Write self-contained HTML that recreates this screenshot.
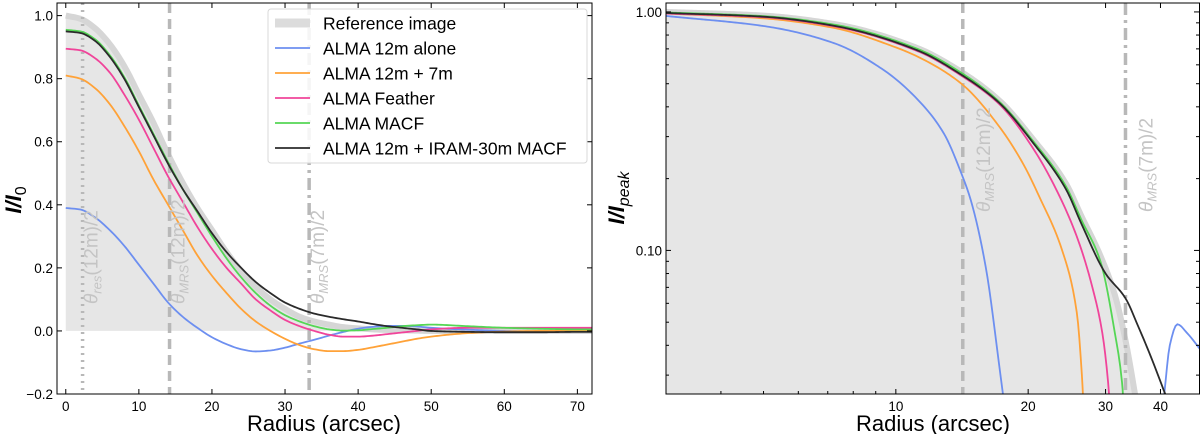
<!DOCTYPE html>
<html><head><meta charset="utf-8">
<style>
html,body{margin:0;padding:0;background:#fff;}
svg{display:block;font-family:"Liberation Sans","DejaVu Sans",sans-serif;}
</style></head>
<body>
<svg id="fig" width="1200" height="434" viewBox="0 0 1200 434" xmlns="http://www.w3.org/2000/svg">
<defs>
<clipPath id="clipL"><rect x="57" y="3" width="535" height="391"/></clipPath>
<clipPath id="clipR"><rect x="666" y="3" width="534" height="391"/></clipPath>
</defs>
<g id="left"></g>
<g id="right"></g>
</svg>
<script>
// ---------- LEFT PANEL DATA ----------
const radiusL = [0,2,4,6,8,10,12,14,16,18,20,22,24,26,28,30,32,34,36,38,40,42,44,46,48,50,55,60,65,70,72];
const refL    = [1.0,.99,.96,.91,.84,.75,.66,.56,.47,.39,.32,.25,.19,.14,.10,.07,.045,.03,.02,.012,.008,.005,.003,.002,.001,0,0,0,0,0,0];
const blueL   = [.39,.385,.36,.32,.27,.21,.15,.09,.045,.01,-.02,-.042,-.058,-.065,-.062,-.053,-.04,-.028,-.015,-.003,.007,.013,.016,.016,.014,.01,.004,0,-.002,-.002,-.002];
const orangeL = [.81,.80,.77,.72,.65,.57,.48,.40,.32,.24,.175,.12,.07,.03,0,-.025,-.045,-.058,-.064,-.064,-.06,-.052,-.043,-.034,-.025,-.018,-.007,-.002,0,0,0];
const pinkL   = [.895,.89,.865,.82,.75,.67,.58,.49,.41,.33,.26,.20,.15,.10,.065,.035,.015,0,-.012,-.018,-.018,-.015,-.01,-.005,0,.005,.01,.01,.01,.01,.01];
const greenL  = [.955,.95,.925,.875,.805,.715,.625,.535,.45,.375,.30,.23,.17,.12,.08,.05,.03,.015,.005,.001,.002,.006,.01,.015,.018,.02,.015,.01,.007,.005,.005];
const blackL  = [.95,.945,.92,.87,.80,.71,.62,.53,.45,.38,.31,.25,.20,.155,.12,.09,.07,.055,.045,.037,.03,.022,.015,.01,.005,0,-.003,-.004,-.004,-.003,-.003];
const xTicksL = [0,10,20,30,40,50,60,70];
const yTicksL = [-0.2,0.0,0.2,0.4,0.6,0.8,1.0];
const yTickLabelsL = ["\u22120.2","0.0","0.2","0.4","0.6","0.8","1.0"];
// ---------- RIGHT PANEL DATA ----------
const refRr = [3,5,7.23,11.2,14.1,17.2,20.6,24.4,26.4,29.2,31.5,33.3,35,36];
const refRv = [1.0,.965,.89,.705,.56,.425,.29,.19,.14,.095,.065,.042,.025,.018];
const blueRr = [3,5.1,7.23,9.39,11.2,12.85,14.1,14.8,16.0,17.3,17.8];
const blueRv = [.962,.868,.74,.57,.43,.31,.21,.163,.086,.03,.02];
const blue2Rr = [40.8,42,43.7,46,49.5];
const blue2Rv = [.025,.04,.049,.045,.038];
const orangeRr = [3,5,7.23,10,11.2,14.1,17.2,19.5,21.2,23.9,25.8,26.5,26.8];
const orangeRv = [.985,.94,.857,.71,.65,.50,.33,.23,.168,.10,.055,.03,.02];
const pinkRr = [3,5,7.23,11.2,14.1,17.2,20.6,23.6,26,28,29.5,30.4,30.8];
const pinkRv = [.985,.95,.87,.685,.54,.41,.265,.168,.11,.07,.045,.028,.02];
const greenRr = [3,5,7.23,11.2,14.1,17.2,20.6,24.4,26.4,29.2,31.5,32.7,33.1];
const greenRv = [.995,.96,.885,.70,.555,.42,.285,.185,.135,.09,.045,.028,.02];
const blackRr = [3,5,7.23,11.2,14.1,17.2,20.6,24.4,26.4,30,33.3,35.6,38,41];
const blackRv = [.99,.955,.875,.69,.545,.415,.28,.18,.13,.08,.063,.048,.036,.025];
const xTicksR = [10,20,30,40];
const xMinorR = [3,4,5,6,7,8,9,50];
const yTicksR = [1.0,0.1];
const yTickLabelsR = ["1.00","0.10"];
const yMinorR = [0.03,0.04,0.05,0.06,0.07,0.08,0.09,0.2,0.3,0.4,0.5,0.6,0.7,0.8,0.9];
const markersR = [14.2,33.3];
const markersL = [2.3,14.2,33.3];

const NS="http://www.w3.org/2000/svg";
function mk(parent,tag,attrs,text){const e=document.createElementNS(NS,tag);for(const k in attrs)e.setAttribute(k,attrs[k]);if(text!==undefined)e.textContent=text;parent.appendChild(e);return e;}

const L={x0:57,x1:592,y0:3,y1:394,xmin:-1.2,xmax:72,ymin:-0.2,ymax:1.04};
function xL(v){return L.x0+(v-L.xmin)/(L.xmax-L.xmin)*(L.x1-L.x0);}
function yL(v){return L.y1-(v-L.ymin)/(L.ymax-L.ymin)*(L.y1-L.y0);}
const R={x0:666,x1:1200,y0:3,y1:394,xmin:3,xmax:49.2,ymin:0.025,ymax:1.09};
function xR(v){return R.x0+(Math.log10(v)-Math.log10(R.xmin))/(Math.log10(R.xmax)-Math.log10(R.xmin))*(R.x1-R.x0);}
function yR(v){return R.y1-(Math.log10(v)-Math.log10(R.ymin))/(Math.log10(R.ymax)-Math.log10(R.ymin))*(R.y1-R.y0);}

function mono(pts){const n=pts.length;if(n<3)return pts;
 const d=[],m=[];for(let i=0;i<n-1;i++)d.push((pts[i+1][1]-pts[i][1])/(pts[i+1][0]-pts[i][0]));
 m[0]=d[0];m[n-1]=d[n-2];
 for(let i=1;i<n-1;i++){if(d[i-1]*d[i]<=0)m[i]=0;else{const h0=pts[i][0]-pts[i-1][0],h1=pts[i+1][0]-pts[i][0];const w1=2*h1+h0,w2=h1+2*h0;m[i]=(w1+w2)/(w1/d[i-1]+w2/d[i]);}}
 const out=[];
 for(let i=0;i<n-1;i++){const x0=pts[i][0],x1=pts[i+1][0],y0=pts[i][1],y1=pts[i+1][1],h=x1-x0;const steps=Math.max(4,Math.ceil(h/2));
  for(let s=0;s<steps;s++){const t=s/steps,t2=t*t,t3=t2*t;
   out.push([x0+t*h,(2*t3-3*t2+1)*y0+(t3-2*t2+t)*h*m[i]+(-2*t3+3*t2)*y1+(t3-t2)*h*m[i+1]]);}}
 out.push(pts[n-1]);return out;}
function poly(pts){return 'M'+pts.map(p=>p[0].toFixed(2)+','+p[1].toFixed(2)).join(' L');}

// ================= LEFT =================
const gL=document.getElementById('left');
const plotL=mk(gL,'g',{'clip-path':'url(#clipL)'});
{const pts=mono(radiusL.map((r,i)=>[xL(r),yL(refL[i])]));
 const f=mk(plotL,'path',{d:poly(pts)+` L${xL(radiusL[radiusL.length-1])},${yL(0)} L${xL(0)},${yL(0)} Z`,fill:'#e6e6e6'});
 
 const l=mk(plotL,'path',{d:poly(pts),fill:'none',stroke:'#d6d6d6','stroke-width':6});
 }
const dashes=['2,5','10,6','12,5,3,5'];
markersL.forEach((m,i)=>{const e=mk(plotL,'line',{x1:xL(m),x2:xL(m),y1:L.y0,y2:L.y1,stroke:'#b8b8b8','stroke-width':3.5,'stroke-dasharray':dashes[i]});
 });
const seriesL=[['blue',blueL,'#6d8ff0'],['orange',orangeL,'#ffa238'],['pink',pinkL,'#f0449a'],['green',greenL,'#55d655'],['black',blackL,'#2b2b2b']];
seriesL.forEach(s=>{const pts=mono(radiusL.map((r,i)=>[xL(r),yL(s[1][i])]));
 const e=mk(plotL,'path',{d:poly(pts),fill:'none',stroke:s[2],'stroke-width':1.8});
 });
const labL=[[2.3,'res','(12m)/2'],[14.2,'MRS','(12m)/2'],[33.3,'MRS','(7m)/2']];
labL.forEach(t=>{const x=xL(t[0])+15,y=304;
 const tx=mk(gL,'text',{x:x,y:y,transform:`rotate(-90 ${x} ${y})`,fill:'#c4c4c4','font-size':19});
 
 mk(tx,'tspan',{'font-style':'italic'},'\u03B8');mk(tx,'tspan',{'font-style':'italic','font-size':13,dy:4},t[1]);mk(tx,'tspan',{dy:-4},t[2]);});
{const f=mk(gL,'rect',{x:L.x0,y:L.y0,width:L.x1-L.x0,height:L.y1-L.y0,fill:'none',stroke:'#000','stroke-width':1});
 }
xTicksL.forEach(v=>{const x=xL(v);mk(gL,'line',{x1:x,x2:x,y1:L.y1,y2:L.y1-5,stroke:'#000'});mk(gL,'line',{x1:x,x2:x,y1:L.y0,y2:L.y0+5,stroke:'#000'});
 const t=mk(gL,'text',{x:x,y:L.y1+17,'text-anchor':'middle','font-size':13.5},String(v));
 });
yTicksL.forEach((v,i)=>{const y=yL(v);mk(gL,'line',{x1:L.x0,x2:L.x0+5,y1:y,y2:y,stroke:'#000'});mk(gL,'line',{x1:L.x1,x2:L.x1-5,y1:y,y2:y,stroke:'#000'});
 const t=mk(gL,'text',{x:L.x0-4,y:y+5,'text-anchor':'end','font-size':13.5},yTickLabelsL[i]);
 });
{const t=mk(gL,'text',{x:324,y:431,'text-anchor':'middle','font-size':22},'Radius (arcsec)');
 const yt=mk(gL,'text',{x:21,y:200,transform:'rotate(-90 21 200)','text-anchor':'middle','font-size':22,'font-weight':'bold','font-style':'italic'});
 
 mk(yt,'tspan',{},'I/I');mk(yt,'tspan',{dy:5,'font-size':16,'font-style':'normal','font-weight':'normal'},'0');}
{const lg=mk(gL,'g',{});
 mk(lg,'rect',{x:268,y:9,width:319,height:154,rx:3,fill:'rgba(255,255,255,0.85)',stroke:'#d8d8d8'});
 const ents=[['Reference image','#dcdcdc',9],['ALMA 12m alone','#6d8ff0',1.8],['ALMA 12m + 7m','#ffa238',1.8],['ALMA Feather','#f0449a',1.8],['ALMA MACF','#55d655',1.8],['ALMA 12m + IRAM-30m MACF','#2b2b2b',1.8]];
 ents.forEach((e,i)=>{const y=23+i*25;const g=mk(lg,'g',{});
  mk(g,'line',{x1:275,x2:310,y1:y,y2:y,stroke:e[1],'stroke-width':e[2]});
  mk(g,'text',{x:323,y:y+6.5,'font-size':17.5},e[0]);});}

// ================= RIGHT =================
const gR=document.getElementById('right');
const plotR=mk(gR,'g',{'clip-path':'url(#clipR)'});
{const pts=mono(refRr.map((r,i)=>[xR(r),yR(refRv[i])]));
 const last=pts[pts.length-1];
 const f=mk(plotR,'path',{d:`M${R.x0},${pts[0][1]} `+poly(pts).replace('M','L')+` L${last[0]},${R.y1+5} L${R.x0},${R.y1+5} Z`,fill:'#e6e6e6'});
 
 const l=mk(plotR,'path',{d:poly(pts),fill:'none',stroke:'#d6d6d6','stroke-width':6});
 }
markersR.forEach((m,i)=>{const e=mk(plotR,'line',{x1:xR(m),x2:xR(m),y1:R.y0,y2:R.y1,stroke:'#b8b8b8','stroke-width':3.5,'stroke-dasharray':dashes[i+1]});
 });
const seriesR=[['blue',blueRr,blueRv,'#6d8ff0'],['blue-sidelobe',blue2Rr,blue2Rv,'#6d8ff0'],['orange',orangeRr,orangeRv,'#ffa238'],['pink',pinkRr,pinkRv,'#f0449a'],['green',greenRr,greenRv,'#55d655'],['black',blackRr,blackRv,'#2b2b2b']];
seriesR.forEach(s=>{const pts=mono(s[1].map((r,i)=>[xR(r),yR(s[2][i])]));
 const e=mk(plotR,'path',{d:poly(pts),fill:'none',stroke:s[3],'stroke-width':1.8});
 });
const labR=[[14.2,'MRS','(12m)/2',212],[33.3,'MRS','(7m)/2',212]];
labR.forEach(t=>{const x=xR(t[0])+27,y=t[3];
 const tx=mk(gR,'text',{x:x,y:y,transform:`rotate(-90 ${x} ${y})`,fill:'#c4c4c4','font-size':19});
 
 mk(tx,'tspan',{'font-style':'italic'},'\u03B8');mk(tx,'tspan',{'font-style':'italic','font-size':13,dy:4},t[1]);mk(tx,'tspan',{dy:-4},t[2]);});
{const f=mk(gR,'rect',{x:R.x0,y:R.y0,width:R.x1-R.x0-0.5,height:R.y1-R.y0,fill:'none',stroke:'#000','stroke-width':1});
 }
xTicksR.forEach(v=>{const x=xR(v);mk(gR,'line',{x1:x,x2:x,y1:R.y1,y2:R.y1-5,stroke:'#000'});mk(gR,'line',{x1:x,x2:x,y1:R.y0,y2:R.y0+5,stroke:'#000'});
 const t=mk(gR,'text',{x:x,y:R.y1+17,'text-anchor':'middle','font-size':13.5},String(v));
 });
xMinorR.forEach(v=>{const x=xR(v);mk(gR,'line',{x1:x,x2:x,y1:R.y1,y2:R.y1-3,stroke:'#000'});mk(gR,'line',{x1:x,x2:x,y1:R.y0,y2:R.y0+3,stroke:'#000'});});
yTicksR.forEach((v,i)=>{const y=yR(v);mk(gR,'line',{x1:R.x0,x2:R.x0+5,y1:y,y2:y,stroke:'#000'});mk(gR,'line',{x1:R.x1-1,x2:R.x1-6,y1:y,y2:y,stroke:'#000'});
 const t=mk(gR,'text',{x:R.x0-4,y:y+5,'text-anchor':'end','font-size':13.5},yTickLabelsR[i]);
 });
yMinorR.forEach(v=>{const y=yR(v);mk(gR,'line',{x1:R.x0,x2:R.x0+3,y1:y,y2:y,stroke:'#000'});mk(gR,'line',{x1:R.x1-1,x2:R.x1-4,y1:y,y2:y,stroke:'#000'});});
{const t=mk(gR,'text',{x:933,y:431,'text-anchor':'middle','font-size':22},'Radius (arcsec)');
 const yt=mk(gR,'text',{x:624,y:198,transform:'rotate(-90 624 198)','text-anchor':'middle','font-size':22,'font-weight':'bold','font-style':'italic'});
 
 mk(yt,'tspan',{},'I/I');mk(yt,'tspan',{dy:5,'font-size':16,'font-weight':'normal'},'peak');}
</script>
</body></html>
